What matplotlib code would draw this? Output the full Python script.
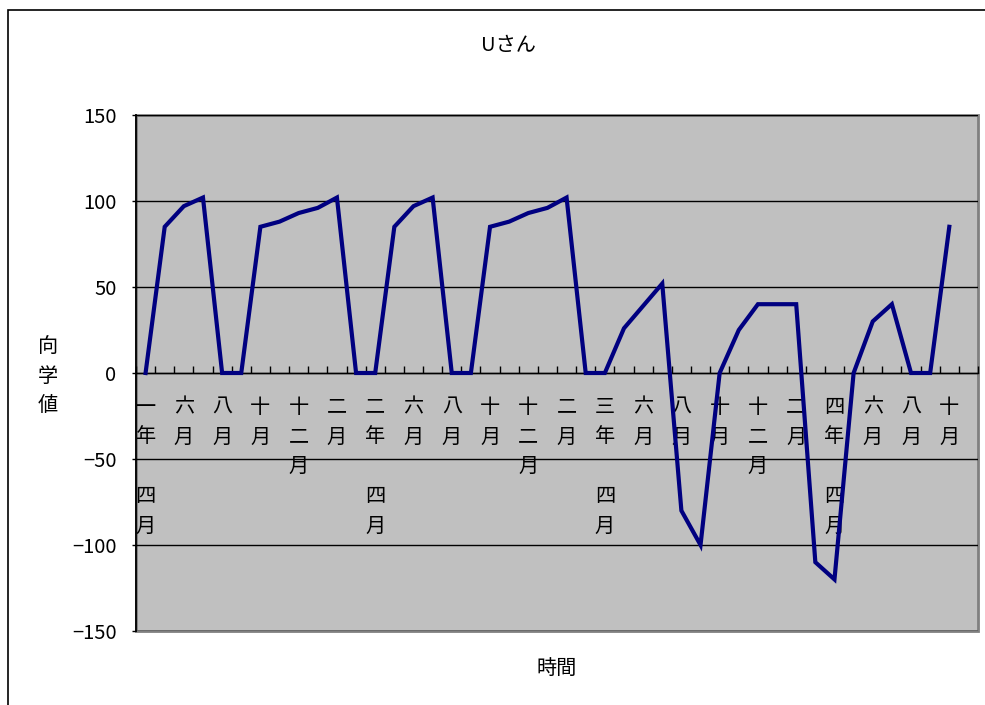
import numpy as np
import matplotlib
matplotlib.use("Agg")
import matplotlib.pyplot as plt
from matplotlib.patches import Rectangle

plt.rcParams['font.family'] = ['Noto Sans CJK JP', 'DejaVu Sans']

title = "Uさん"
xlabel = "時間"
ylabel = "向学値"

years = ["一年", "二年", "三年", "四年"]
months = ["四月", "五月", "六月", "七月", "八月", "九月",
          "十月", "十一月", "十二月", "一月", "二月", "三月"]
n_categories = 44

# 向学値 per month, starting from 一年四月
values = [0, 85, 97, 102, 0, 0, 85, 88, 93, 96, 102, 0,
          0, 85, 97, 102, 0, 0, 85, 88, 93, 96, 102, 0,
          0, 26, 39, 52, -80, -100, 0, 25, 40, 40, 40, -110,
          -120, 0, 30, 40, 0, 0, 85]

yticks = [-150, -100, -50, 0, 50, 100, 150]

# category names, the year is prefixed on 四月
categories = []
for y in years:
    for m in months:
        categories.append(y + " " + m if m == "四月" else m)
categories = categories[:n_categories]


def stack(label):
    # write a label top to bottom, one character per row
    return "\n".join("" if c == " " else c for c in label)


W, H = 985, 705
fig = plt.figure(figsize=(W / 100, H / 100), dpi=100)
ax = fig.add_axes([136 / W, 1 - 631 / H, (978 - 136) / W, (631 - 115) / H])

x = np.arange(len(values))
ax.plot(x, values, color="#000080", lw=3, solid_joinstyle="miter", zorder=3)

ax.set_xlim(-0.5, len(categories) - 0.5)
ax.set_ylim(-150, 150)
ax.set_facecolor("#C0C0C0")
ax.patch.set_edgecolor("#808080")
ax.patch.set_linewidth(2)

ax.set_yticks(yticks)
ax.set_yticklabels([str(v).replace("-", "\u2212") for v in yticks])
ax.yaxis.grid(True, color="black", lw=1)
ax.set_axisbelow(True)

# x axis sits on the zero line, ticks between categories
ax.spines["bottom"].set_position(("data", 0))
ax.spines["bottom"].set_linewidth(1)
ax.spines["left"].set_linewidth(1.3)
ax.spines["top"].set_visible(False)
ax.spines["right"].set_visible(False)

shown = list(range(0, len(values), 2))
ax.set_xticks(shown)
ax.set_xticklabels([stack(categories[i]) for i in shown], linespacing=1.55)
ax.set_xticks(np.arange(len(categories) + 1) - 0.5, minor=True)
ax.tick_params(axis="x", which="major", length=0, pad=17, labelsize=14.5)
ax.tick_params(axis="x", which="minor", direction="in", length=5, width=1)
ax.tick_params(axis="y", which="major", direction="out", length=3, width=1,
               pad=11, labelsize=14.5)

fig.text(508 / W, 1 - 45 / H, title, ha="center", va="center", fontsize=14.5)
fig.text(557 / W, 1 - 668 / H, xlabel, ha="center", va="center", fontsize=14.5)
fig.text(48 / W, 1 - 376 / H, stack(ylabel), ha="center", va="center",
         fontsize=14.5, linespacing=1.55)

# chart frame, running off the right and bottom edges
fig.add_artist(Rectangle((8 / W, -0.1), 1.2, 1 - 10 / H + 0.1,
                         transform=fig.transFigure, fill=False,
                         edgecolor="black", lw=1.2))

fig.savefig("out.png", dpi=100)
